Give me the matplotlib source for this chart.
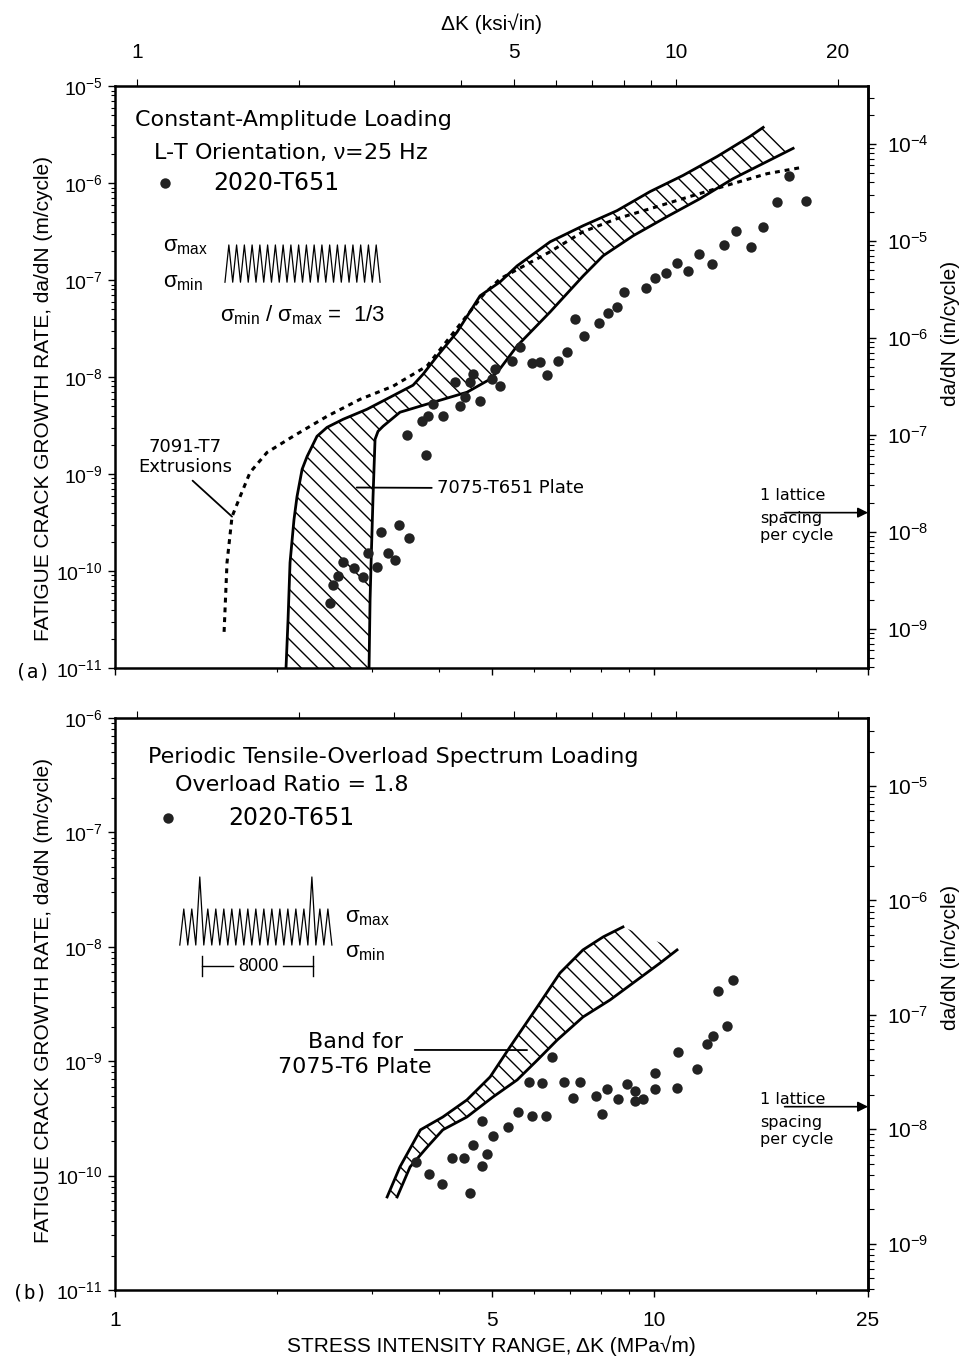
import numpy as np
import matplotlib
matplotlib.use("Agg")
import matplotlib.pyplot as plt
from matplotlib.ticker import FixedLocator, FixedFormatter, NullFormatter, LogLocator

plt.rcParams['font.family'] = ['Liberation Sans', 'DejaVu Sans']
plt.rcParams['mathtext.fontset'] = 'custom'
plt.rcParams['mathtext.rm'] = 'Liberation Sans'
plt.rcParams['mathtext.it'] = 'Liberation Sans'
plt.rcParams['hatch.linewidth'] = 1.0

NOTE_FONT = ['DejaVu Sans']

# ---- (a) constant-amplitude loading, 2020-T651 points
ca_dk = [2.51, 2.54, 2.59, 2.65, 2.78, 2.89, 2.95, 3.06, 3.12, 3.21, 3.31, 3.37, 3.52,
         3.49, 3.78, 3.72, 3.81, 3.89, 4.06, 4.28, 4.37, 4.47, 4.56, 4.62, 4.76, 5.01,
         5.08, 5.19, 5.46, 5.65, 5.95, 6.15, 6.34, 6.65, 6.91, 7.15, 7.43, 7.92, 8.23,
         8.55, 8.81, 9.68, 10.06, 10.54, 11.05, 11.58, 12.14, 12.84, 13.51, 14.22, 15.17,
         15.97, 16.95, 17.84, 19.19]
ca_rate = [4.7e-11, 7.2e-11, 8.9e-11, 1.25e-10, 1.08e-10, 8.7e-11, 1.55e-10, 1.11e-10,
           2.5e-10, 1.55e-10, 1.31e-10, 3.0e-10, 2.2e-10, 2.5e-9, 1.56e-9, 3.5e-9, 3.95e-9,
           5.25e-9, 3.95e-9, 8.85e-9, 5.0e-9, 6.2e-9, 8.85e-9, 1.07e-8, 5.64e-9, 9.5e-9,
           1.21e-8, 8.05e-9, 1.46e-8, 2.04e-8, 1.39e-8, 1.43e-8, 1.05e-8, 1.46e-8, 1.81e-8,
           3.97e-8, 2.65e-8, 3.61e-8, 4.58e-8, 5.28e-8, 7.55e-8, 8.3e-8, 1.05e-7, 1.19e-7,
           1.51e-7, 1.24e-7, 1.87e-7, 1.47e-7, 2.31e-7, 3.23e-7, 2.2e-7, 3.55e-7, 6.44e-7,
           1.17e-6, 6.59e-7]

# 7075-T651 plate band (upper/left and lower/right edges)
band_a_up_dk = [2.077, 2.095, 2.113, 2.149, 2.177, 2.225, 2.273, 2.371, 2.475, 2.651, 2.937,
                3.240, 3.575, 3.731, 3.962, 4.315, 4.761, 5.186, 5.577, 6.423, 7.394, 8.551,
                9.847, 11.34, 13.12, 15.10, 15.97]
band_a_up_rate = [1e-11, 3.13e-11, 1.22e-10, 3.39e-10, 5.86e-10, 1.12e-9, 1.52e-9, 2.45e-9,
                  3.03e-9, 3.67e-9, 4.66e-9, 6.19e-9, 8.24e-9, 1.07e-8, 1.64e-8, 2.91e-8,
                  6.88e-8, 9.57e-8, 1.40e-7, 2.48e-7, 3.63e-7, 5.20e-7, 8.17e-7, 1.20e-6,
                  1.88e-6, 3.03e-6, 3.75e-6]
band_a_lo_dk = [2.962, 2.975, 2.988, 3.013, 3.039, 3.078, 3.145, 3.381, 3.894, 4.504, 4.970,
                5.186, 5.577, 6.423, 7.394, 8.056, 9.158, 10.59, 12.20, 14.04, 16.24, 18.15]
band_a_lo_rate = [1e-11, 5.05e-11, 1.22e-10, 5.86e-10, 2.28e-9, 2.76e-9, 3.11e-9, 4.34e-9,
                  5.49e-9, 6.98e-9, 9.51e-9, 1.22e-8, 2.09e-8, 4.69e-8, 1.10e-7, 1.78e-7,
                  2.86e-7, 4.51e-7, 6.92e-7, 1.11e-6, 1.67e-6, 2.28e-6]

# 7091-T7 extrusions (dashed)
ext_dk = [1.594, 1.614, 1.649, 1.707, 1.781, 1.915, 2.141, 2.475, 2.851, 3.282, 3.796, 4.188,
          4.824, 5.186, 6.423, 7.394, 8.551, 9.847, 11.34, 14.04, 16.24, 18.70]
ext_rate = [2.36e-11, 1.22e-10, 3.64e-10, 5.86e-10, 1.04e-9, 1.67e-9, 2.45e-9, 3.94e-9,
            5.90e-9, 8.05e-9, 1.30e-8, 2.59e-8, 7.03e-8, 1.03e-7, 1.96e-7, 3.15e-7, 4.30e-7,
            5.44e-7, 6.92e-7, 9.89e-7, 1.25e-6, 1.44e-6]

# ---- (b) periodic overload spectrum, 2020-T651 points
ol_dk = [14.04, 13.17, 13.68, 12.89, 12.57, 11.10, 12.04, 11.05, 10.06, 10.06, 9.56, 9.24,
         9.24, 8.93, 8.59, 8.20, 7.82, 8.02, 7.30, 6.82, 7.09, 6.48, 6.21, 5.87, 6.31, 5.95,
         5.60, 5.37, 5.03, 4.80, 4.62, 4.91, 4.80, 4.45, 4.22, 3.62, 3.83, 4.05, 4.56]
ol_rate = [5.13e-9, 4.11e-9, 2.03e-9, 1.66e-9, 1.41e-9, 1.20e-9, 8.55e-10, 5.83e-10, 7.89e-10,
           5.71e-10, 4.68e-10, 4.49e-10, 5.50e-10, 6.33e-10, 4.68e-10, 5.71e-10, 4.97e-10,
           3.45e-10, 6.58e-10, 6.58e-10, 4.76e-10, 1.09e-9, 6.44e-10, 6.58e-10, 3.32e-10,
           3.32e-10, 3.60e-10, 2.66e-10, 2.22e-10, 3.00e-10, 1.85e-10, 1.55e-10, 1.21e-10,
           1.43e-10, 1.43e-10, 1.32e-10, 1.03e-10, 8.46e-11, 7.05e-11]

# 7075-T6 plate band
band_b_up_dk = [3.20, 3.38, 3.69, 4.06, 4.50, 4.97, 5.41, 6.08, 6.70, 7.39, 8.06, 8.77]
band_b_up_rate = [6.50e-11, 1.19e-10, 2.51e-10, 3.25e-10, 4.58e-10, 7.28e-10, 1.33e-9,
                  2.98e-9, 5.90e-9, 9.38e-9, 1.22e-8, 1.49e-8]
band_b_lo_dk = [3.34, 3.53, 3.80, 4.06, 4.50, 5.03, 5.58, 6.08, 6.62, 7.39, 8.30, 9.32,
                10.28, 11.05]
band_b_lo_rate = [6.50e-11, 1.19e-10, 1.78e-10, 2.51e-10, 3.25e-10, 4.86e-10, 6.86e-10,
                  1.02e-9, 1.53e-9, 2.43e-9, 3.43e-9, 5.13e-9, 7.21e-9, 9.38e-9]

lattice_rate = 4e-10   # 1 lattice spacing per cycle (m)
M_TO_IN = 0.0254
MPA_PER_KSI = 1.0988

fig = plt.figure(figsize=(9.65, 13.6), dpi=100)
ax1 = fig.add_axes([0.1192, 0.5088, 0.7803, 0.4279])
ax2 = fig.add_axes([0.1192, 0.0515, 0.7803, 0.4206])


def style_axes(ax, ymin, ymax):
    ax.set_xscale('log')
    ax.set_yscale('log')
    ax.set_xlim(1, 25)
    ax.set_ylim(ymin, ymax)
    ax.xaxis.set_major_locator(FixedLocator([1, 5, 10, 25]))
    ax.xaxis.set_major_formatter(FixedFormatter(['1', '5', '10', '25']))
    ax.xaxis.set_minor_locator(FixedLocator([2, 3, 4, 6, 7, 8, 9, 20]))
    ax.xaxis.set_minor_formatter(NullFormatter())
    ax.yaxis.set_major_locator(LogLocator(base=10, numticks=20))
    ax.yaxis.set_minor_locator(LogLocator(base=10, subs=np.arange(2, 10), numticks=20))
    ax.yaxis.set_minor_formatter(NullFormatter())
    for s in ax.spines.values():
        s.set_linewidth(1.8)
    ax.tick_params(which='major', direction='out', length=5, width=1, labelsize=15)
    ax.tick_params(axis='y', which='major', labelsize=14, pad=4)
    ax.tick_params(which='minor', direction='out', length=3, width=0.8)
    ax.tick_params(axis='x', which='major', pad=10)

    sec = ax.secondary_yaxis('right', functions=(lambda y: y / M_TO_IN, lambda y: y * M_TO_IN))
    sec.yaxis.set_minor_formatter(NullFormatter())
    sec.tick_params(which='major', direction='out', length=6, width=1, labelsize=15, pad=8)
    sec.tick_params(which='minor', direction='out', length=4, width=0.8)
    sec.spines['right'].set_linewidth(1.8)

    top = ax.secondary_xaxis('top', functions=(lambda k: k / MPA_PER_KSI, lambda k: k * MPA_PER_KSI))
    top.xaxis.set_major_locator(FixedLocator([1, 5, 10, 20]))
    top.xaxis.set_minor_locator(FixedLocator([2, 3, 4, 6, 7, 8, 9]))
    top.xaxis.set_minor_formatter(NullFormatter())
    top.tick_params(which='major', direction='out', length=5, width=0.8, labelsize=15, pad=12)
    top.tick_params(which='minor', direction='out', length=4, width=0.8)
    return sec, top


def band(ax, up_dk, up_rate, lo_dk, lo_rate):
    poly_x = list(up_dk) + list(lo_dk[::-1])
    poly_y = list(up_rate) + list(lo_rate[::-1])
    ax.fill(poly_x, poly_y, facecolor='none', edgecolor='black', linewidth=0,
            hatch='\\\\')
    ax.plot(up_dk, up_rate, color='black', lw=2.0)
    ax.plot(lo_dk, lo_rate, color='black', lw=2.0)


def lattice_note(ax, y0):
    t = ax.transAxes
    for lab, dy in [('1 lattice', 0.0), ('spacing', -0.04), ('per cycle', -0.07)]:
        ax.text(0.857, y0 + dy, lab, transform=t, fontsize=11.5, va='center', family=NOTE_FONT)
    ax.annotate('', xy=(25, lattice_rate), xytext=(17.5, lattice_rate),
                arrowprops=dict(arrowstyle='-|>', color='black', lw=1.2, mutation_scale=15,
                                shrinkA=0, shrinkB=0))


# ================= (a) =================
sec1, top1 = style_axes(ax1, 1e-11, 1e-5)
top1.xaxis.set_major_formatter(FixedFormatter(['1', '5', '10', '20']))
top1.set_xlabel('ΔK (ksi√in)', fontsize=15, labelpad=10)
ax1.tick_params(labelbottom=False)

band(ax1, band_a_up_dk, band_a_up_rate, band_a_lo_dk, band_a_lo_rate)
ax1.plot(ext_dk, ext_rate, color='black', lw=2.2, linestyle=(0, (1.6, 1.6)))
ax1.plot(ca_dk, ca_rate, 'o', color='#222222', ms=7.5, mec='none')

t = ax1.transAxes
ax1.text(0.027, 0.942, 'Constant-Amplitude Loading', transform=t, fontsize=16, va='center',
         family=NOTE_FONT)
ax1.text(0.050, 0.887, 'L-T Orientation, $\\nu$=25 Hz', transform=t, fontsize=16,
         va='center', family=NOTE_FONT)
ax1.plot([0.066], [0.833], 'o', color='#222222', ms=7.5, mec='none', transform=t)
ax1.text(0.130, 0.833, '2020-T651', transform=t, fontsize=17, va='center', family=NOTE_FONT)
ax1.text(0.064, 0.725, '$\\sigma_{max}$', transform=t, fontsize=16, va='center')
ax1.text(0.064, 0.663, '$\\sigma_{min}$', transform=t, fontsize=16, va='center')
n = 20
zx = np.linspace(0.146, 0.352, 2 * n + 1)
zy = np.where(np.arange(2 * n + 1) % 2 == 0, 0.663, 0.727)
ax1.plot(zx, zy, color='black', lw=0.9, transform=t)
ax1.text(0.139, 0.607, '$\\sigma_{min}$ / $\\sigma_{max}$ =  1/3', transform=t, fontsize=16,
         va='center')

ax1.text(0.093, 0.380, '7091-T7', transform=t, fontsize=13, ha='center', va='center',
         family=NOTE_FONT)
ax1.text(0.093, 0.345, 'Extrusions', transform=t, fontsize=13, ha='center', va='center',
         family=NOTE_FONT)
ax1.annotate('', xy=(ext_dk[2], ext_rate[2]), xycoords='data',
             xytext=(0.103, 0.322), textcoords='axes fraction',
             arrowprops=dict(arrowstyle='-', color='black', lw=1.3, shrinkA=0, shrinkB=0))
ax1.annotate('7075-T651 Plate', xy=(2.81, 7.26e-10), xycoords='data',
             xytext=(0.428, 0.309), textcoords='axes fraction', fontsize=13, va='center',
             family=NOTE_FONT,
             arrowprops=dict(arrowstyle='-', color='black', lw=1.3, shrinkA=2, shrinkB=0))
lattice_note(ax1, 0.297)

# ================= (b) =================
sec2, top2 = style_axes(ax2, 1e-11, 1e-6)
top2.xaxis.set_major_formatter(NullFormatter())
ax2.set_xlabel('STRESS INTENSITY RANGE, ΔK (MPa√m)', fontsize=15, labelpad=4)

band(ax2, band_b_up_dk, band_b_up_rate, band_b_lo_dk, band_b_lo_rate)
ax2.plot(ol_dk, ol_rate, 'o', color='#222222', ms=7.5, mec='none')

t = ax2.transAxes
ax2.text(0.044, 0.932, 'Periodic Tensile-Overload Spectrum Loading', transform=t,
         fontsize=16, va='center', family=NOTE_FONT)
ax2.text(0.080, 0.883, 'Overload Ratio = 1.8', transform=t, fontsize=16, va='center',
         family=NOTE_FONT)
ax2.plot([0.070], [0.825], 'o', color='#222222', ms=7.5, mec='none', transform=t)
ax2.text(0.150, 0.825, '2020-T651', transform=t, fontsize=17, va='center', family=NOTE_FONT)

n = 19
zx = np.linspace(0.086, 0.288, 2 * n + 1)
zy = np.where(np.arange(2 * n + 1) % 2 == 0, 0.603, 0.666)
zy[2 * 2 + 1] = 0.722
zy[2 * 16 + 1] = 0.722
ax2.plot(zx, zy, color='black', lw=0.9, transform=t)
ax2.text(0.305, 0.652, '$\\sigma_{max}$', transform=t, fontsize=16, va='center')
ax2.text(0.305, 0.590, '$\\sigma_{min}$', transform=t, fontsize=16, va='center')
ax2.plot([0.1155, 0.1155], [0.548, 0.584], color='black', lw=1.0, transform=t)
ax2.plot([0.2629, 0.2629], [0.548, 0.584], color='black', lw=1.0, transform=t)
ax2.plot([0.1155, 0.157], [0.566, 0.566], color='black', lw=1.0, transform=t)
ax2.plot([0.223, 0.2629], [0.566, 0.566], color='black', lw=1.0, transform=t)
ax2.text(0.190, 0.566, '8000', transform=t, fontsize=13, ha='center', va='center')

ax2.text(0.319, 0.434, 'Band for', transform=t, fontsize=16, ha='center', va='center',
         family=NOTE_FONT)
ax2.text(0.319, 0.390, '7075-T6 Plate', transform=t, fontsize=16, ha='center', va='center',
         family=NOTE_FONT)
ax2.annotate('', xy=(5.82, 1.25e-9), xycoords='data',
             xytext=(0.398, 0.4196), textcoords='axes fraction',
             arrowprops=dict(arrowstyle='-', color='black', lw=1.3, shrinkA=0, shrinkB=0))
lattice_note(ax2, 0.333)

# axis titles placed on the figure
ylab = 'FATIGUE CRACK GROWTH RATE, da/dN (m/cycle)'
fig.text(0.045, 0.707, ylab, rotation=90, fontsize=15, ha='center', va='center')
fig.text(0.045, 0.264, ylab, rotation=90, fontsize=15, ha='center', va='center')
fig.text(0.985, 0.755, 'da/dN (in/cycle)', rotation=90, fontsize=15, ha='center', va='center')
fig.text(0.985, 0.296, 'da/dN (in/cycle)', rotation=90, fontsize=15, ha='center', va='center')

fig.text(0.016, 0.502, '(a)', fontsize=14, family='DejaVu Sans Mono')
fig.text(0.012, 0.045, '(b)', fontsize=14, family='DejaVu Sans Mono')

fig.savefig('out.png', dpi=100)
